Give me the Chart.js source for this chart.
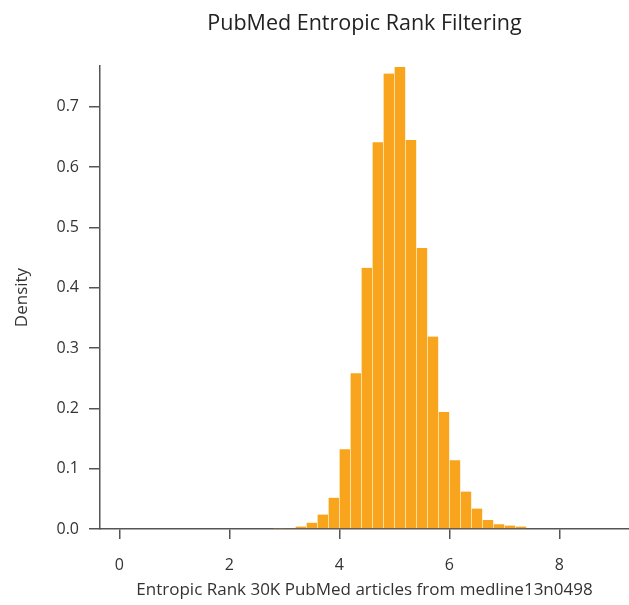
<!DOCTYPE html>
<html>
<head>
<meta charset="utf-8">
<script src="https://cdn.jsdelivr.net/npm/chart.js@4/dist/chart.umd.min.js"></script>
<style>
  html, body { margin: 0; padding: 0; background: #fff; }
  #wrap { width: 629px; height: 605px; }
</style>
</head>
<body>
<div id="wrap"><canvas id="histChart"></canvas></div>
<script>
// Histogram bins (centers, width 0.2) and density
const binCenters = [2.9, 3.1, 3.3, 3.5, 3.7, 3.9, 4.1, 4.3, 4.5, 4.7, 4.9, 5.1,
                    5.3, 5.5, 5.7, 5.9, 6.1, 6.3, 6.5, 6.7, 6.9, 7.1, 7.3];
const densities = [0.0008, 0.0015, 0.004, 0.0105, 0.024, 0.052, 0.132, 0.258, 0.433, 0.641, 0.755, 0.766,
                   0.645, 0.466, 0.319, 0.194, 0.114, 0.062, 0.034, 0.0148, 0.008, 0.0057, 0.004];

// Axis ticks
const xTicks = [0, 2, 4, 6, 8];
const yTicks = [0, 0.1, 0.2, 0.3, 0.4, 0.5, 0.6, 0.7];

const fontFamily = '"Open Sans", "Noto Sans", sans-serif';
const axisColor = '#555';

document.addEventListener('DOMContentLoaded', () => {
    renderHistogram();
});

function renderHistogram() {
    const ctx = document.getElementById('histChart');

    new Chart(ctx, {
        type: 'bar',
        data: {
            datasets: [{
                label: 'Density',
                data: binCenters.map((x, i) => ({ x: x, y: densities[i] })),
                backgroundColor: '#F8A51D',
                borderColor: '#FCDFA8',
                borderWidth: { left: 1, right: 0, top: 0, bottom: 0 },
                barPercentage: 1,
                categoryPercentage: 1
            }]
        },
        options: {
            responsive: true,
            maintainAspectRatio: false,
            animation: false,
            layout: { padding: { left: 0, right: 0, top: 0, bottom: 0 } },
            plugins: {
                legend: { display: false },
                tooltip: { enabled: false },
                title: {
                    display: true,
                    fullSize: false, // center over the plot area
                    text: 'PubMed Entropic Rank Filtering',
                    color: '#222',
                    font: { family: fontFamily, size: 21.5, weight: 'normal', lineHeight: 1.2 },
                    padding: { top: 11.1, bottom: 29.1 }
                }
            },
            scales: {
                x: {
                    type: 'linear',
                    offset: false,
                    min: -0.351,
                    max: 9.267,
                    afterBuildTicks: (scale) => { scale.ticks = xTicks.map(v => ({ value: v })); },
                    afterFit: (scale) => { scale.height = 76; },
                    grid: {
                        offset: false,
                        drawOnChartArea: false,
                        drawTicks: true,
                        tickLength: 10,
                        color: axisColor,
                        lineWidth: 1.5
                    },
                    border: { display: true, color: axisColor, width: 1.5 },
                    ticks: {
                        color: '#333',
                        padding: 17,
                        maxRotation: 0,
                        font: { family: fontFamily, size: 16 },
                        callback: (v) => v
                    },
                    title: {
                        display: true,
                        text: 'Entropic Rank 30K PubMed articles from medline13n0498',
                        color: '#333',
                        font: { family: fontFamily, size: 17, lineHeight: 1.2 },
                        padding: { top: 0, bottom: 5 }
                    }
                },
                y: {
                    min: 0,
                    max: 0.7675,
                    afterBuildTicks: (scale) => { scale.ticks = yTicks.map(v => ({ value: v })); },
                    afterFit: (scale) => { scale.width = 100; },
                    grid: {
                        drawOnChartArea: false,
                        drawTicks: true,
                        tickLength: 11,
                        color: axisColor,
                        lineWidth: 1.5
                    },
                    border: { display: true, color: axisColor, width: 1.5 },
                    ticks: {
                        color: '#333',
                        padding: 10,
                        font: { family: fontFamily, size: 16 },
                        callback: (v) => Number(v).toFixed(1)
                    },
                    title: {
                        display: true,
                        text: 'Density',
                        color: '#333',
                        font: { family: fontFamily, size: 17, lineHeight: 1.2 },
                        padding: { top: 11.8, bottom: 0 }
                    }
                }
            }
        }
    });
}
</script>
</body>
</html>
